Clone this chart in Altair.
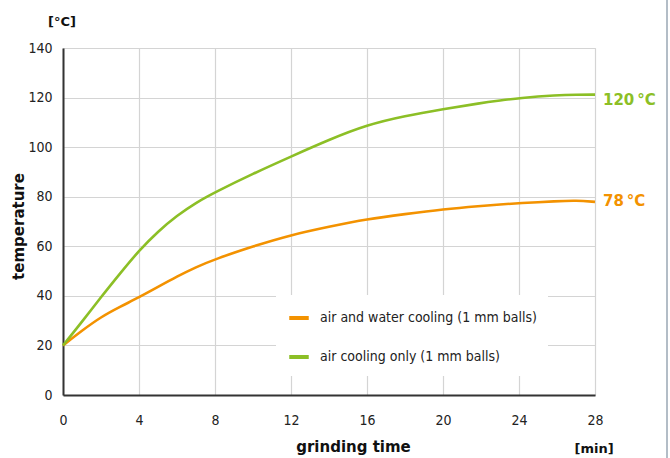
import altair as alt
import pandas as pd

time_min = [0, 1, 2, 3, 4, 5, 6, 7, 8, 10, 12, 14, 16, 18, 20, 22, 23, 24, 26, 27, 28]
air_water = [20, 26, 31.5, 35.6, 39.4, 43.6, 47.8, 51.6, 54.8, 60, 64.6, 67.9, 71, 73, 74.9,
             76.3, 76.9, 77.4, 78.2, 78.5, 77.9]
air_only = [20, 29.5, 39.5, 49, 58.3, 66, 72.4, 77.6, 81.8, 89.3, 96.2, 103, 109, 112.6, 115.3,
            117.8, 118.8, 119.8, 121, 121.2, 121.2]

series_names = ["air and water cooling (1 mm balls)", "air cooling only (1 mm balls)"]
series_colors = ["#f39200", "#8cbf26"]
end_labels = ["78\u2009°C", "120\u2009°C"]
end_values = [79, 120]

rows = []
for t, a, b in zip(time_min, air_water, air_only):
    rows.append({"t": t, "temp": a, "series": series_names[0]})
    rows.append({"t": t, "temp": b, "series": series_names[1]})
df = pd.DataFrame(rows)

lab_df = pd.DataFrame({"t": [28, 28], "temp": end_values, "label": end_labels,
                       "series": series_names})

tick_font = "DejaVu Sans Condensed, Liberation Sans Narrow, DejaVu Sans"
bold_font = "DejaVu Sans"

x = alt.X("t:Q", scale=alt.Scale(domain=[0, 28], nice=False),
          axis=alt.Axis(values=[0, 4, 8, 12, 16, 20, 24, 28], title="grinding time",
                        titleX=290, titleY=51, titleFontSize=15, titleFont=bold_font,
                        titleFontWeight="bold", titleColor="#111", titleBaseline="middle",
                        labelFont=tick_font, labelFontSize=14, labelColor="#222",
                        labelPadding=18, labelFlush=False, ticks=False,
                        domainColor="#333", domainWidth=2,
                        gridColor="#d4d4d4", gridWidth=1.2))
y = alt.Y("temp:Q", scale=alt.Scale(domain=[0, 140], nice=False),
          axis=alt.Axis(values=[0, 20, 40, 60, 80, 100, 120, 140], title="temperature",
                        titleX=-45, titleY=178, titleFontSize=15, titleFont=bold_font,
                        titleFontWeight="bold", titleColor="#111", titleBaseline="middle",
                        labelFont=tick_font, labelFontSize=14, labelColor="#222",
                        labelPadding=11, ticks=False, domainColor="#333", domainWidth=2,
                        gridColor="#d4d4d4", gridWidth=1.2))

color = alt.Color("series:N", scale=alt.Scale(domain=series_names, range=series_colors),
                  legend=alt.Legend(title=None, orient="none", legendX=213, legendY=247,
                                    symbolType="stroke", symbolSize=380, symbolStrokeWidth=4,
                                    labelFontSize=14, labelFont=tick_font, labelColor="#222",
                                    rowPadding=19, fillColor="white", padding=11,
                                    labelOffset=9, labelLimit=400))

lines = alt.Chart(df).mark_line(strokeWidth=2.6, interpolate="basis").encode(
    x=x, y=y, color=color)

labels = alt.Chart(lab_df).mark_text(align="left", dx=8, dy=2, fontSize=15,
                                     fontWeight="bold", font=bold_font).encode(
    x="t:Q", y="temp:Q", text="label:N",
    color=alt.Color("series:N", scale=alt.Scale(domain=series_names, range=series_colors),
                    legend=None))

unit_c = alt.Chart(pd.DataFrame({"s": ["[°C]"]})).mark_text(
    fontSize=13, fontWeight="bold", font=bold_font, color="#111").encode(
    text="s:N", x=alt.value(-1), y=alt.value(-26))
unit_min = alt.Chart(pd.DataFrame({"s": ["[min]"]})).mark_text(
    fontSize=13, fontWeight="bold", font=bold_font, color="#111").encode(
    text="s:N", x=alt.value(531), y=alt.value(401))
frame = alt.Chart(pd.DataFrame({"s": [0]})).mark_rule(color="#9aa7b5", strokeWidth=1.5).encode(
    x=alt.value(604), y=alt.value(-48), y2=alt.value(410))

chart = alt.layer(lines, labels, unit_c, unit_min, frame).properties(
    width=532, height=347,
    autosize=alt.AutoSizeParams(type="none"),
    padding={"left": 63, "top": 48, "right": 75, "bottom": 63},
).configure_view(stroke=None).configure(background="white")

chart.save("out.html", embed_options={"renderer": "svg", "actions": False})
